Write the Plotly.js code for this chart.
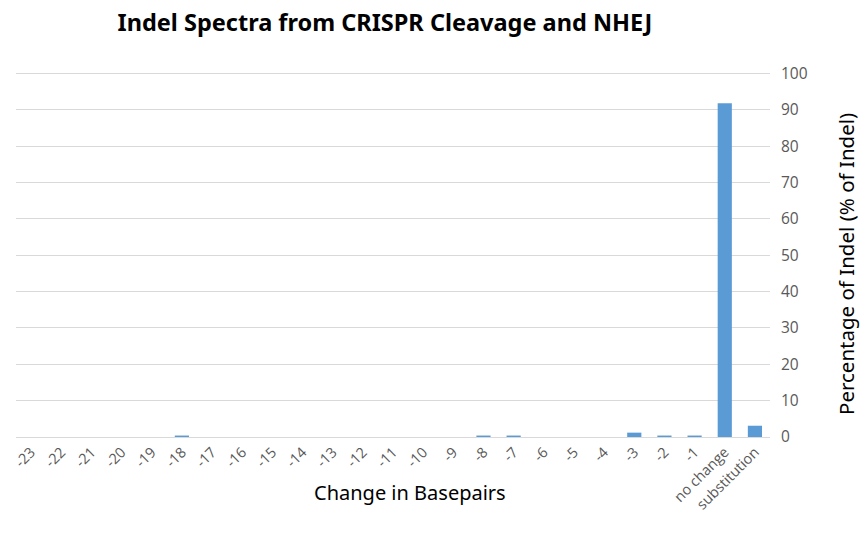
<!DOCTYPE html>
<html>
<head>
<meta charset="utf-8">
<script src="https://cdn.plot.ly/plotly-3.0.1.min.js"></script>
<style>html,body{margin:0;padding:0;background:#fff;}#chart{width:867px;height:534px;}</style>
</head>
<body>
<div id="chart"></div>
<script>
const categories = ["-23","-22","-21","-20","-19","-18","-17","-16","-15","-14","-13","-12","-11","-10","-9","-8","-7","-6","-5","-4","-3","-2","-1","no change","substitution"];
const percentages = [0,0,0,0,0,0.4,0,0,0,0,0,0,0,0,0,0.4,0.4,0,0,0,1.2,0.4,0.4,91.8,3.1];
const yTicks = [0,10,20,30,40,50,60,70,80,90,100];

const trace = {
  type: 'bar',
  x: categories,
  y: percentages,
  marker: {color: '#5B9BD5'},
  hoverinfo: 'x+y'
};

const layout = {
  width: 867, height: 534,
  margin: {l: 16, r: 97, t: 72, b: 97},
  paper_bgcolor: '#fff', plot_bgcolor: '#fff',
  font: {family: 'Open Sans, Noto Sans, sans-serif', color: '#595959'},
  title: {text: '<b>Indel Spectra from CRISPR Cleavage and NHEJ</b>', x: 0.444, xanchor: 'center', y: 0.958, yanchor: 'middle',
          font: {size: 23.5, color: '#000', family: 'Noto Sans, Open Sans, sans-serif'}},
  bargap: 0.53,
  showlegend: false,
  xaxis: {
    type: 'category',
    tickangle: -45,
    tickfont: {size: 14.5, color: '#595959'},
    showgrid: false,
    showline: true, linecolor: '#d9d9d9', linewidth: 1,
    ticks: '',
    automargin: false
  },
  yaxis: {
    side: 'right',
    range: [0, 100.4],
    tickvals: yTicks,
    tickfont: {size: 15.5, color: '#595959'},
    showgrid: true, gridcolor: '#d9d9d9', gridwidth: 1,
    zeroline: false,
    showline: false,
    ticks: '',
    ticklabelstandoff: 10,
    automargin: false
  },
  annotations: [
    {text: 'Change in Basepairs', xref: 'paper', yref: 'paper', x: 0.522, y: -0.153, xanchor: 'center', yanchor: 'middle',
     showarrow: false, font: {size: 20, color: '#000', family: 'Noto Sans, Open Sans, sans-serif'}},
    {text: 'Percentage of Indel (% of Indel)', xref: 'paper', yref: 'paper', x: 1.1, y: 0.475, xanchor: 'center', yanchor: 'middle',
     textangle: -90, showarrow: false, font: {size: 20.5, color: '#000', family: 'Noto Sans, Open Sans, sans-serif'}}
  ]
};

Plotly.newPlot('chart', [trace], layout, {displayModeBar: false, staticPlot: true});
</script>
</body>
</html>
